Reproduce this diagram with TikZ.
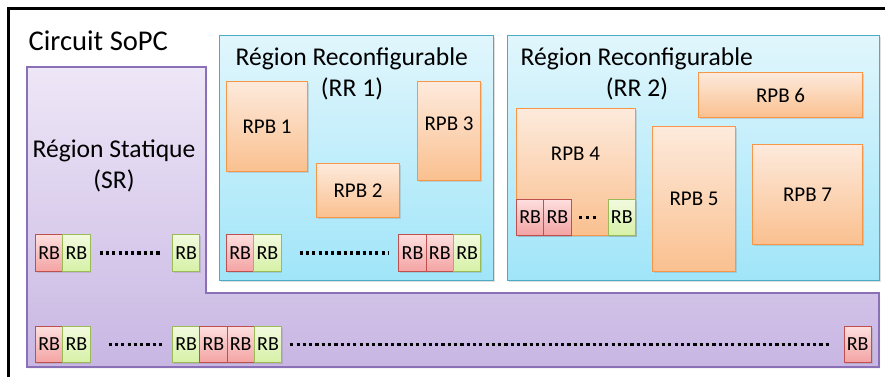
\documentclass[tikz,border=0pt]{standalone}
\usepackage{fontspec}
\setmainfont{Carlito}
\usetikzlibrary{shadows}

\definecolor{purpTop}{HTML}{EEE7F7}
\definecolor{purpBot}{HTML}{C8B6E3}
\definecolor{purpLine}{HTML}{8A70B6}
\definecolor{cyanTop}{HTML}{E1F6FC}
\definecolor{cyanBot}{HTML}{A0E5F9}
\definecolor{cyanLine}{HTML}{4BACC6}
\definecolor{orTop}{HTML}{FDEADC}
\definecolor{orBot}{HTML}{FAC08F}
\definecolor{orLine}{HTML}{F79646}
\definecolor{redTop}{HTML}{FDDEDE}
\definecolor{redBot}{HTML}{F4A3A3}
\definecolor{redLine}{HTML}{C0504D}
\definecolor{grnTop}{HTML}{F2FADF}
\definecolor{grnBot}{HTML}{D6F1A6}
\definecolor{grnLine}{HTML}{9BBB59}

\tikzset{
  shad/.style={drop shadow={opacity=0.25, shadow xshift=1.2pt, shadow yshift=-1.4pt}},
  region/.style={shad, draw=cyanLine, line width=1.1pt, top color=cyanTop, bottom color=cyanBot,
    anchor=north west, inner sep=0pt},
  rpb/.style={shad, draw=orLine, line width=1.1pt, top color=orTop, bottom color=orBot,
    anchor=north west, inner sep=0pt, font=\fontsize{21}{25}\selectfont},
  rbbase/.style={shad, line width=1pt, anchor=north west, inner sep=0pt,
    minimum width=27.3pt, minimum height=37pt, font=\fontsize{20}{24}\selectfont},
  rbred/.style={rbbase, draw=redLine, top color=redTop, bottom color=redBot},
  rbgrn/.style={rbbase, draw=grnLine, top color=grnTop, bottom color=grnBot},
  dots/.style={line width=3.2pt, dash pattern=on 3.2pt off 3.1pt, black},
  title/.style={inner sep=0pt, font=\fontsize{25.6}{30}\selectfont},
  lbl/.style={inner sep=0pt, font=\fontsize{21}{25}\selectfont},
}

\begin{document}
\begin{tikzpicture}[x=1pt, y=-1pt]
  \useasboundingbox (0,0) rectangle (885,376);
  \clip (0,0) rectangle (885,376);
  \fill[white] (0,0) rectangle (885,376);

  % chip outline
  \draw[line width=3pt, black] (8.5,8.5) rectangle (900,400);
  \node[anchor=base west, inner sep=0pt, font=\fontsize{28.6}{33}\selectfont] (chip) at (28.5,50) {Circuit SoPC};

  % static region (L-shaped)
  \shade[shad, top color=purpTop, bottom color=purpBot, draw=purpLine, line width=1.1pt]
    (27,67) -- (206,67) -- (206,293) -- (879,293) -- (879,367) -- (27,367) -- cycle;
  \node[title, anchor=base] (srA) at (114,157) {Région Statique};
  \node[title, anchor=base] (srB) at (114,188) {(SR)};

  % reconfigurable regions
  \node[region, minimum width=274pt, minimum height=245pt] (rr1) at (219,35) {};
  \node[region, minimum width=372pt, minimum height=245pt] (rr2) at (507,35) {};
  \node[title, anchor=base west] (rr1a) at (235.5,65) {Région Reconfigurable};
  \node[title, anchor=base] (rr1b) at (352,96) {(RR 1)};
  \node[title, anchor=base west] (rr2a) at (520.5,65) {Région Reconfigurable};
  \node[title, anchor=base] (rr2b) at (637,96) {(RR 2)};

  % RR 1 blocks
  \node[rpb, minimum width=81pt, minimum height=90pt] (rpb1) at (226,81) {RPB 1};
  \node[rpb, minimum width=83pt, minimum height=54pt] (rpb2) at (316,163) {RPB 2};
  \node[rpb, minimum width=63pt, minimum height=99pt] (rpb3) at (417,81) {};
  \node[lbl, yshift=7pt] (rpb3t) at (rpb3.center) {RPB 3};

  % RR 2 blocks
  \node[rpb, minimum width=119pt, minimum height=127pt] (rpb4) at (516,108) {};
  \node[lbl] (rpb4t) at (575.5,154) {RPB 4};
  \node[rpb, minimum width=83pt, minimum height=145pt] (rpb5) at (652,126) {RPB 5};
  \node[rpb, minimum width=164pt, minimum height=45pt] (rpb6) at (698,72) {RPB 6};
  \node[rpb, minimum width=110pt, minimum height=100pt] (rpb7) at (752,144) {RPB 7};

  % RBs inside RPB 4
  \node[rbred, minimum height=36pt] (q1) at (516,199) {RB};
  \node[rbred, minimum height=36pt] (q2) at (543.3,199) {RB};
  \node[rbgrn, minimum height=36pt] (q3) at (607.7,199) {RB};
  \draw[dots, dash pattern=on 3.2pt off 3.6pt] ([xshift=7.5pt]q2.east) -- ([xshift=-9.5pt]q3.west);

  % RB row of the static region (upper part)
  \node[rbred] (s1) at (35,234) {RB};
  \node[rbgrn] (s2) at (62.3,234) {RB};
  \node[rbgrn] (s3) at (172,234) {RB};
  \draw[dots] ([xshift=9pt]s2.east) -- ([xshift=-11pt]s3.west);

  % RB row of RR 1
  \node[rbred] (r1) at (226,234) {RB};
  \node[rbgrn] (r2) at (253.3,234) {RB};
  \node[rbred] (r3) at (398.4,234) {RB};
  \node[rbred] (r4) at (425.7,234) {RB};
  \node[rbgrn] (r5) at (453,234) {RB};
  \draw[dots] ([xshift=18pt]r2.east) -- ([xshift=-9pt]r3.west);

  % RB row of the static region (bottom strip)
  \node[rbred, minimum height=36pt] (b1) at (35,326) {RB};
  \node[rbgrn, minimum height=36pt] (b2) at (62.3,326) {RB};
  \node[rbgrn, minimum height=36pt] (b3) at (172,326) {RB};
  \node[rbred, minimum height=36pt] (b4) at (199.3,326) {RB};
  \node[rbred, minimum height=36pt] (b5) at (226.6,326) {RB};
  \node[rbgrn, minimum height=36pt] (b6) at (253.9,326) {RB};
  \node[rbred, minimum height=36pt] (b7) at (843.5,326) {RB};
  \draw[dots] ([xshift=18pt]b2.east) -- ([xshift=-9pt]b3.west);
  \draw[dots] ([xshift=8pt]b6.east) -- ([xshift=-12pt]b7.west);
\end{tikzpicture}
\end{document}
